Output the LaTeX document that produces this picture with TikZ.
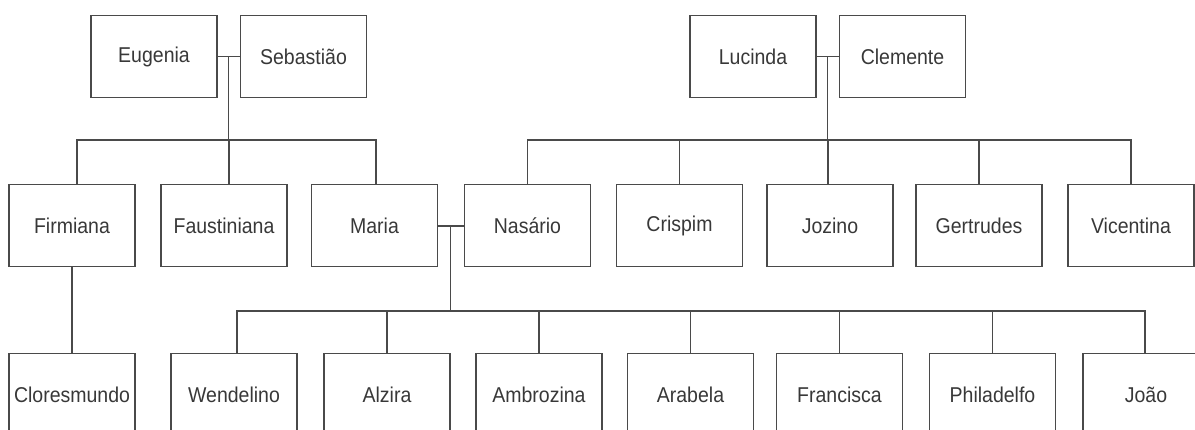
\documentclass[tikz,border=0pt]{standalone}
\usepackage{fontspec}
\usepackage{graphicx}
\setmainfont{Liberation Sans}
\definecolor{linec}{HTML}{4A4A4A}
\definecolor{textc}{HTML}{383838}
\newcommand{\tallname}[1]{\scalebox{1}[1.1]{#1}}
\begin{document}
\begin{tikzpicture}[x=1pt,y=-1pt,
  person/.style={draw=linec,line width=1.7pt,rectangle,minimum width=126pt,minimum height=82pt,
    inner sep=0pt,text=textc,font=\fontsize{19.5}{22}\selectfont},
  link/.style={draw=linec,line width=1.7pt}]
\useasboundingbox (0,0) rectangle (1195,430);
\clip (0,0) rectangle (1195,430);
% row 1
\node[person] (eug) at (154,56.5) {\tallname{Eugenia}};
\node[person] (seb) at (303.5,56.5) {\tallname{Sebastião}};
\node[person] (luc) at (753,56.5) {\tallname{Lucinda}};
\node[person] (cle) at (902.5,56.5) {\tallname{Clemente}};
% row 2
\node[person] (fir) at (72,225.5) {\tallname{Firmiana}};
\node[person] (fau) at (224,225.5) {\tallname{Faustiniana}};
\node[person] (mar) at (374.5,225.5) {\tallname{Maria}};
\node[person] (nas) at (527.5,225.5) {\tallname{Nasário}};
\node[person] (cri) at (679.5,225.5) {\tallname{Crispim}};
\node[person] (joz) at (830,225.5) {\tallname{Jozino}};
\node[person] (ger) at (979,225.5) {\tallname{Gertrudes}};
\node[person] (vic) at (1131,225.5) {\tallname{Vicentina}};
% row 3
\node[person] (clo) at (72,394.5) {\tallname{Cloresmundo}};
\node[person] (wen) at (234,394.5) {\tallname{Wendelino}};
\node[person] (alz) at (387,394.5) {\tallname{Alzira}};
\node[person] (amb) at (539,394.5) {\tallname{Ambrozina}};
\node[person] (ara) at (690.5,394.5) {\tallname{Arabela}};
\node[person] (fra) at (839.5,394.5) {\tallname{Francisca}};
\node[person] (phi) at (992.5,394.5) {\tallname{Philadelfo}};
\node[person] (joa) at (1146,394.5) {\tallname{João}};
% junctions
\coordinate (j1) at (228.5,56.5);
\coordinate (j2) at (827.5,56.5);
\coordinate (j3) at (450.5,226);
\coordinate (bar1) at (0,140);
\coordinate (bar2) at (0,311);
% family 1
\draw[link] (eug.east) -- (seb.west);
\draw[link] (j1) -- (j1 |- bar1);
\draw[link] ([xshift=5pt]fir.north) -- ([xshift=5pt]fir.north |- bar1) -- ([xshift=1.5pt]mar.north |- bar1) -- ([xshift=1.5pt]mar.north);
\draw[link] ([xshift=5pt]fau.north) -- ([xshift=5pt]fau.north |- bar1);
% family 2
\draw[link] (luc.east) -- (cle.west);
\draw[link] (j2) -- (j2 |- bar1);
\draw[link] (nas.north) -- (nas.north |- bar1) -- (vic.north |- bar1) -- (vic.north);
\draw[link] (cri.north) -- (cri.north |- bar1);
\draw[link] ([xshift=-2pt]joz.north) -- ([xshift=-2pt]joz.north |- bar1);
\draw[link] (ger.north) -- (ger.north |- bar1);
% family 3
\draw[link] (mar.east |- j3) -- (nas.west |- j3);
\draw[link] (j3) -- (j3 |- bar2);
\draw[link] ([xshift=3pt]wen.north) -- ([xshift=3pt]wen.north |- bar2) -- ([xshift=-1pt]joa.north |- bar2) -- ([xshift=-1pt]joa.north);
\draw[link] (alz.north) -- (alz.north |- bar2);
\draw[link] (amb.north) -- (amb.north |- bar2);
\draw[link] (ara.north) -- (ara.north |- bar2);
\draw[link] (fra.north) -- (fra.north |- bar2);
\draw[link] (phi.north) -- (phi.north |- bar2);
% Firmiana - Cloresmundo
\draw[link] (fir.south) -- (clo.north);
\end{tikzpicture}
\end{document}
